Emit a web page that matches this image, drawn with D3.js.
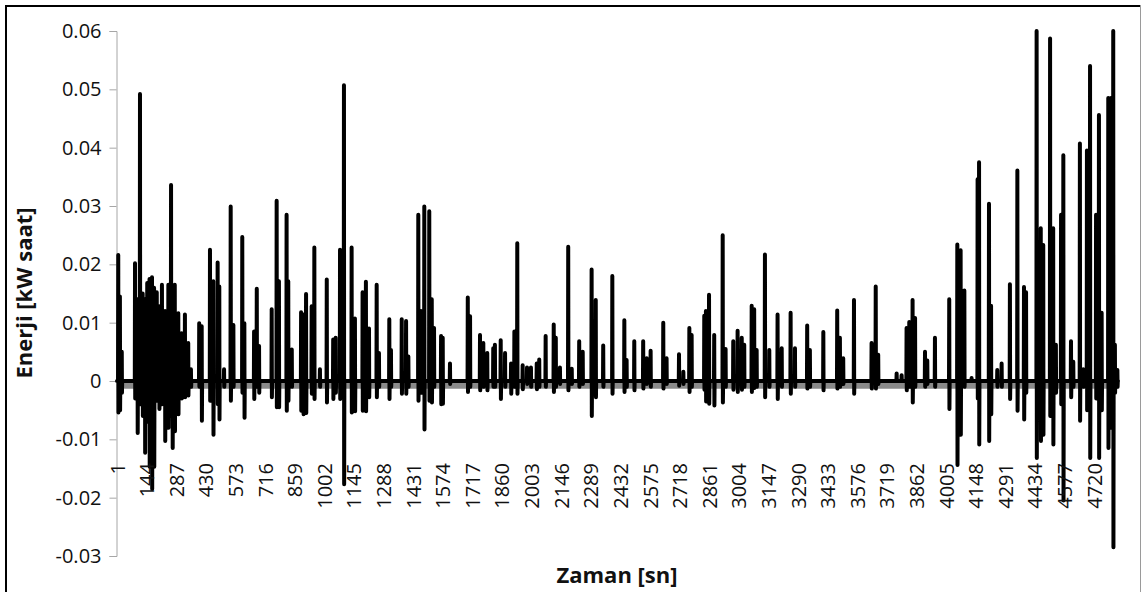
<!DOCTYPE html>
<html>
<head>
<meta charset="utf-8">
<script src="https://cdn.jsdelivr.net/npm/d3@7"></script>
<style>
  body { margin: 0; background: #fff; }
  svg { display: block; font-family: "Open Sans", sans-serif; }
</style>
</head>
<body>
<div id="chart"></div>
<script>
const WIDTH = 1142;
const HEIGHT = 592;
const PLOT = {left: 117, right: 1118, top: 31, bottom: 556};

// y axis ticks
const yTicks = [-0.03, -0.02, -0.01, 0, 0.01, 0.02, 0.03, 0.04, 0.05, 0.06];

// x axis category labels (Zaman [sn])
const xTickLabels = ["1", "144", "287", "430", "573", "716", "859", "1002", "1145", "1288",
  "1431", "1574", "1717", "1860", "2003", "2146", "2289", "2432", "2575", "2718", "2861",
  "3004", "3147", "3290", "3433", "3576", "3719", "3862", "4005", "4148", "4291", "4434",
  "4577", "4720"];
const N_POINTS = 4835;

// spikes: sample index, highest value, lowest value
const spikeTime = [
  7, 15, 24, 88, 100, 112, 125, 136, 147, 158, 170, 180, 193, 205, 218, 233, 249, 262, 269, 280, 297, 313, 329, 345, 358,
  398, 410, 450, 466, 487, 495, 518, 550, 563, 606, 616, 663, 676, 687, 748, 772, 783, 820, 828, 845, 890, 901, 914, 941, 954, 981,
  1014, 1045, 1057, 1078, 1097, 1134, 1150, 1187, 1203, 1218, 1255, 1266, 1316, 1324, 1376, 1397, 1408, 1456, 1469, 1485, 1509, 1521, 1532, 1566, 1574, 1609,
  1695, 1706, 1754, 1770, 1789, 1818, 1826, 1854, 1875, 1904, 1920, 1934, 1960, 1981, 2000, 2028, 2040, 2071, 2110, 2120, 2140, 2180, 2197, 2233, 2250,
  2293, 2313, 2349, 2393, 2451, 2462, 2499, 2542, 2559, 2578, 2639, 2655, 2715, 2736, 2765, 2776, 2837, 2845, 2860, 2885,
  2926, 2940, 2977, 2998, 3018, 3030, 3066, 3078, 3090, 3130, 3151, 3191, 3211, 3254, 3275, 3334, 3347, 3412, 3479, 3492, 3508, 3560, 3645, 3665, 3677, 3766, 3790, 3814, 3827, 3843, 3855,
  3903, 3914, 3951, 4020, 4059, 4075, 4093, 4128, 4157, 4164, 4212, 4222, 4252, 4273, 4313, 4349, 4381, 4391,
  4442, 4462, 4474, 4507, 4522, 4535, 4560, 4571, 4608, 4619, 4651, 4667, 4685, 4700, 4729, 4743, 4756, 4788, 4801, 4812, 4820, 4832
];
const spikeHigh = [
  0.0216, 0.0145, 0.005, 0.0202, 0.014, 0.0492, 0.015, 0.014, 0.0168, 0.0175, 0.0178, 0.016, 0.0152, 0.0128, 0.0165, 0.012, 0.0165, 0.0336, 0.013, 0.0165, 0.0116, 0.0082, 0.0114, 0.0065, 0.002,
  0.0099, 0.0094, 0.0225, 0.0171, 0.0203, 0.0162, 0.002, 0.0299, 0.0096, 0.0247, 0.0099, 0.0085, 0.0158, 0.006, 0.0123, 0.0309, 0.0171, 0.0285, 0.0171, 0.0054, 0.0118, 0.0114, 0.0149, 0.0128, 0.0229, 0.002,
  0.0174, 0.0071, 0.0074, 0.0225, 0.0507, 0.0229, 0.0107, 0.0152, 0.017, 0.009, 0.0165, 0.0048, 0.0106, 0.0053, 0.0106, 0.0103, 0.0042, 0.0285, 0.012, 0.0299, 0.0291, 0.014, 0.0091, 0.0077, 0.0074, 0.003,
  0.0143, 0.0111, 0.0079, 0.0065, 0.0048, 0.0056, 0.0062, 0.007, 0.0048, 0.003, 0.0085, 0.0236, 0.0027, 0.0023, 0.0023, 0.003, 0.0037, 0.0077, 0.0097, 0.0074, 0.0023, 0.023, 0.0021, 0.0068, 0.005,
  0.0191, 0.0139, 0.0061, 0.018, 0.0104, 0.0036, 0.0068, 0.0068, 0.0039, 0.0052, 0.01, 0.0039, 0.0046, 0.0016, 0.0091, 0.0079, 0.0112, 0.012, 0.0148, 0.0079,
  0.025, 0.0055, 0.0068, 0.0086, 0.0074, 0.0062, 0.0129, 0.0123, 0.0053, 0.0217, 0.0053, 0.0114, 0.0056, 0.0117, 0.0056, 0.0095, 0.0053, 0.0084, 0.0121, 0.0074, 0.0039, 0.0139, 0.0065, 0.0162, 0.0045, 0.0013, 0.001, 0.0091, 0.0101, 0.0139, 0.0108,
  0.005, 0.0035, 0.0074, 0.014, 0.0234, 0.0224, 0.0155, 0.0005, 0.0346, 0.0375, 0.0304, 0.0129, 0.0019, 0.003, 0.0166, 0.0361, 0.0161, 0.0152,
  0.06, 0.0262, 0.0233, 0.0587, 0.0262, 0.0062, 0.0285, 0.0387, 0.0068, 0.0033, 0.0407, 0.002, 0.0395, 0.054, 0.0285, 0.0456, 0.0117, 0.0485, 0.0485, 0.06, 0.0062, 0.0019
];
const spikeLow = [
  -0.0054, -0.005, -0.002, -0.003, -0.0089, -0.004, -0.006, -0.0123, -0.007, -0.0147, -0.0185, -0.0147, -0.0034, -0.0048, -0.004, -0.0103, -0.008, -0.006, -0.0115, -0.0086, -0.0057, -0.003, -0.0028, -0.0025, -0.001,
  -0.001, -0.0068, -0.0034, -0.0092, -0.004, -0.0066, -0.001, -0.0034, -0.001, -0.002, -0.0063, -0.0031, -0.001, -0.002, -0.0028, -0.0045, -0.0045, -0.0051, -0.0034, -0.001, -0.0051, -0.0057, -0.0055, -0.0022, -0.0031, -0.001,
  -0.0037, -0.0031, -0.002, -0.0031, -0.0177, -0.0054, -0.0052, -0.0051, -0.0052, -0.0028, -0.0028, -0.001, -0.0031, -0.001, -0.0022, -0.0022, -0.001, -0.0034, -0.002, -0.0083, -0.0034, -0.0037, -0.001, -0.004, -0.0039, -0.0005,
  -0.0019, -0.001, -0.0016, -0.001, -0.0016, -0.001, -0.001, -0.0031, -0.001, -0.0022, -0.001, -0.0022, -0.0014, -0.0005, -0.001, -0.0014, -0.001, -0.001, -0.0019, -0.001, -0.0005, -0.0016, -0.0005, -0.001, -0.0005,
  -0.006, -0.0028, -0.001, -0.0022, -0.0019, -0.001, -0.0016, -0.0013, -0.0005, -0.001, -0.0013, -0.0005, -0.0008, -0.0005, -0.0019, -0.001, -0.0015, -0.0035, -0.0039, -0.0042,
  -0.0037, -0.001, -0.0015, -0.0019, -0.0015, -0.001, -0.0019, -0.0012, -0.001, -0.0028, -0.001, -0.0031, -0.001, -0.0022, -0.001, -0.0013, -0.001, -0.0016, -0.0013, -0.001, -0.0005, -0.0022, -0.0013, -0.0013, -0.0005, 0, 0, -0.0016, -0.001, -0.0037, -0.001,
  -0.001, -0.0005, -0.001, -0.0048, -0.0144, -0.0092, -0.001, 0, -0.003, -0.0109, -0.0103, -0.0057, -0.001, -0.001, -0.0031, -0.0051, -0.0066, -0.002,
  -0.0132, -0.0103, -0.0092, -0.006, -0.0109, -0.002, -0.004, -0.0205, -0.0028, -0.001, -0.0068, -0.001, -0.005, -0.0132, -0.003, -0.0132, -0.005, -0.0115, -0.008, -0.0285, -0.002, -0.001
];

// grey second series sitting just under zero
const greyTime = [1, 4835];
const greyValue = [-0.0008, -0.0008];

let svg = d3.select("#chart")
  .append("svg")
    .attr("width", WIDTH)
    .attr("height", HEIGHT);

// outer frame
svg.append("line").attr("x1", 6).attr("x2", 1140).attr("y1", 6).attr("y2", 6)
  .attr("stroke", "#000").attr("stroke-width", 2);
svg.append("line").attr("x1", 6).attr("x2", 6).attr("y1", 5).attr("y2", HEIGHT)
  .attr("stroke", "#000").attr("stroke-width", 2);
svg.append("line").attr("x1", 1140.5).attr("x2", 1140.5).attr("y1", 5).attr("y2", HEIGHT)
  .attr("stroke", "#9a9a9a").attr("stroke-width", 1);

let x = d3.scaleLinear()
  .domain([1, N_POINTS])
  .range([PLOT.left, PLOT.right]);

let y = d3.scaleLinear()
  .domain([-0.03, 0.06])
  .range([PLOT.bottom, PLOT.top]);

// y axis
let yAxis = svg.append("g")
  .attr("transform", "translate(116.5,0)")
  .call(d3.axisLeft(y)
    .tickValues(yTicks)
    .tickSize(7)
    .tickPadding(8)
    .tickFormat(d => Math.abs(d) < 1e-9 ? "0" : d.toFixed(2)));
yAxis.selectAll("path, line").attr("stroke", "#a6a6a6");
yAxis.selectAll("text")
  .attr("font-size", "20px")
  .attr("font-family", "'Open Sans', sans-serif")
  .attr("fill", "#111");

// horizontal axis line at zero
svg.append("line")
  .attr("x1", PLOT.left - 1).attr("x2", PLOT.right + 2)
  .attr("y1", y(0)).attr("y2", y(0))
  .attr("stroke", "#a6a6a6");

// grey series
let greyPts = greyTime.map((t, i) => [t, greyValue[i]]);
svg.append("path")
  .datum(greyPts)
  .attr("fill", "none")
  .attr("stroke", "#8a8a8a")
  .attr("stroke-width", 6)
  .attr("d", d3.line().x(d => x(d[0])).y(d => y(d[1])));

// black series: baseline with spikes up and down
let pts = [[1, 0]];
spikeTime.forEach((t, i) => {
  pts.push([t - 1, 0]);
  pts.push([t, spikeHigh[i]]);
  pts.push([t + 1, spikeLow[i]]);
  pts.push([t + 2, 0]);
});
pts.push([N_POINTS, 0]);

svg.append("path")
  .datum(pts)
  .attr("fill", "none")
  .attr("stroke", "#000")
  .attr("stroke-width", 4)
  .attr("stroke-linejoin", "round")
  .attr("stroke-linecap", "round")
  .attr("d", d3.line().x(d => x(d[0])).y(d => y(d[1])));

// x tick labels, rotated, hanging below the plot
let xTickIdx = xTickLabels.map(s => +s);
let xAxis = svg.append("g")
  .attr("transform", "translate(0,455)")
  .call(d3.axisBottom(x)
    .tickValues(xTickIdx)
    .tickSize(0)
    .tickFormat((d, i) => xTickLabels[i]));
xAxis.select(".domain").remove();
xAxis.selectAll("text")
  .attr("transform", "rotate(-90)")
  .attr("text-anchor", "end")
  .attr("x", -8)
  .attr("y", 0)
  .attr("dy", "0.35em")
  .attr("font-size", "20px")
  .attr("font-family", "'Open Sans', sans-serif")
  .attr("fill", "#111");

// axis titles
svg.append("text")
  .attr("transform", "translate(32,293) rotate(-90)")
  .attr("text-anchor", "middle")
  .attr("font-size", "22px")
  .attr("font-weight", "bold")
  .attr("fill", "#111")
  .text("Enerji [kW saat]");

svg.append("text")
  .attr("x", 617)
  .attr("y", 583)
  .attr("text-anchor", "middle")
  .attr("font-size", "22px")
  .attr("font-weight", "bold")
  .attr("fill", "#111")
  .text("Zaman [sn]");
</script>
</body>
</html>
